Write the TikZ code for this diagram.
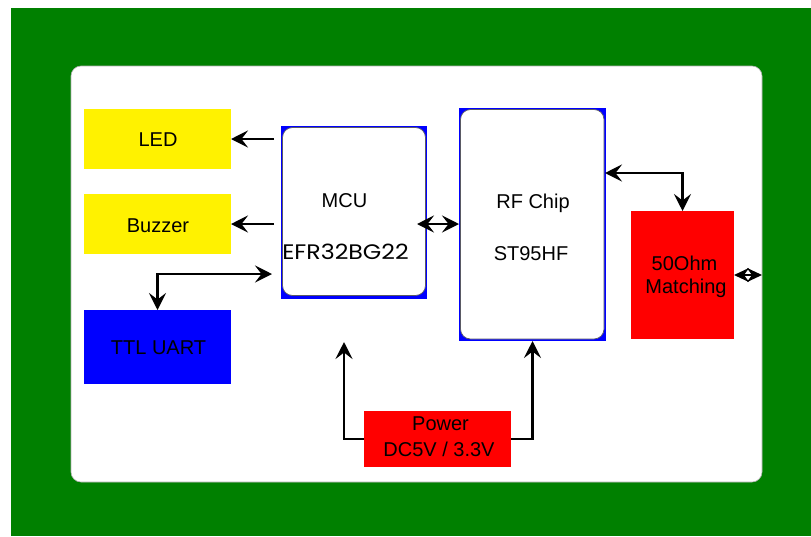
\documentclass[tikz,border=0pt]{standalone}
\usepackage{fontspec}
\setmainfont{Liberation Sans}
\newfontfamily\geofont{Poppins}
\usetikzlibrary{arrows.meta}
\definecolor{boardgreen}{RGB}{0,128,0}
\definecolor{edgegray}{RGB}{90,90,100}
\begin{document}
\begin{tikzpicture}[x=1pt,y=-1pt,
  blk/.style={inner sep=0pt, outer sep=0pt, anchor=north west, draw=none},
  chip/.style={inner sep=0pt, outer sep=0pt, anchor=north west, fill=white, draw=edgegray, line width=0.7pt, rounded corners=10pt},
  lbl/.style={inner sep=0pt, anchor=base, font=\fontsize{20}{24}\selectfont},
  bigtip/.tip={Stealth[length=17pt,width=17pt,inset=6.5pt]},
  smalltip/.tip={Stealth[length=15pt,width=14pt,inset=5pt]},
  arr/.style={line width=2.3pt, -bigtip},
  arrb/.style={line width=2.3pt, bigtip-bigtip},
  arrs/.style={line width=2pt, smalltip-smalltip}]
\path[use as bounding box] (0,0) rectangle (811,536);
\fill[boardgreen] (11,8) rectangle (811,536);
\node[blk, fill=white, draw=gray!60, line width=0.6pt, rounded corners=10pt, minimum width=691, minimum height=416] (panel) at (71,66) {};
% boxes
\node[blk, fill=yellow, minimum width=147, minimum height=60] (led) at (84,109) {};
\node[blk, fill=yellow, minimum width=147, minimum height=60] (buzzer) at (84,194) {};
\node[blk, fill=blue, minimum width=147, minimum height=74] (ttl) at (84,310) {};
\node[blk, fill=blue, minimum width=146, minimum height=173] (mcub) at (281,126) {};
\node[chip, minimum width=143, minimum height=168] (mcu) at (282.5,127.5) {};
\node[blk, fill=blue, minimum width=147, minimum height=233] (rfb) at (459,108) {};
\node[chip, minimum width=143.5, minimum height=229.5] (rf) at (460.5,109.5) {};
\node[blk, fill=red, minimum width=103, minimum height=128] (match) at (631,211) {};
\node[blk, fill=red, minimum width=147, minimum height=56] (power) at (364,411) {};
% labels
\node[lbl] (ledt) at (158,146) {LED};
\node[lbl] (buzt) at (158,232) {Buzzer};
\node[lbl] (ttlt) at (158.5,354) {TTL UART};
\node[lbl] (mcut) at (344.5,207) {MCU};
\node[lbl, font=\geofont\fontsize{21}{24}\selectfont] (efrt) at (345.5,259) {\scalebox{1.13}[1]{EFR32BG22}};
\node[lbl] (rft) at (533,208) {RF Chip};
\node[lbl] (stt) at (531,260) {ST95HF};
\node[lbl] (ohmt) at (684.5,270) {50Ohm};
\node[lbl] (matt) at (686,293) {Matching};
\node[lbl] (powt) at (440.5,430) {Power};
\node[lbl] (dct) at (439,456) {DC5V / 3.3V};
% connector ends
\coordinate (ledsrc) at (274,139);
\coordinate (buzsrc) at (274,224);
\coordinate (uartend) at (272,274);
\coordinate (mcuin) at (417,224);
\coordinate (rfout) at (605,173);
\coordinate (antenna) at (762,275);
\coordinate (mcupwr) at (344,342);
% connectors
\draw[arr] (ledsrc) -- (led.east);
\draw[arr] (buzsrc) -- (buzzer.east);
\draw[arrb] (uartend) -| (ttl.north);
\draw[arrb] (mcuin) -- (rfb.west |- mcuin);
\draw[arrb] (rfout) -| (match.north);
\draw[arrs] (match.east |- antenna) -- (antenna);
\draw[arr] (power.west) -| (mcupwr);
\draw[arr] (power.east) -| (rfb.south);
\end{tikzpicture}
\end{document}
